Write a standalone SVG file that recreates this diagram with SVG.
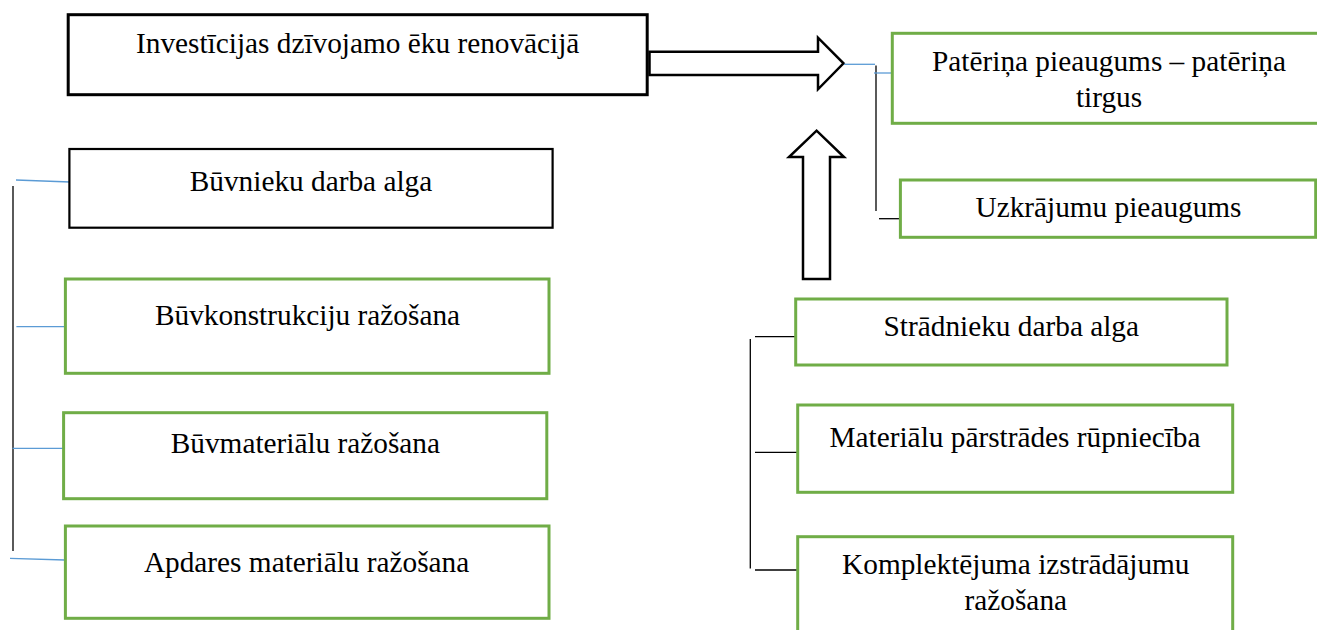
<svg xmlns="http://www.w3.org/2000/svg" width="1317" height="630" viewBox="0 0 1317 630">
<style>
.t{font-family:"Liberation Serif","Times New Roman",serif;font-size:29.3px;fill:#000;text-anchor:middle}
.g{fill:#fff;stroke:#70AD47;stroke-width:3}
.k{fill:#fff;stroke:#000;stroke-width:2.2}
.bl{stroke:#5B9BD5;stroke-width:1.3;fill:none}
.bk{stroke:#000;stroke-width:1.3;fill:none}
.arr{fill:#fff;stroke:#000;stroke-width:2.5;stroke-linejoin:miter}
</style>
<rect width="1317" height="630" fill="#fff"/>
<g id="connectors">
<polygon class="arr" points="649.5,51.7 818,51.7 818,37.7 843.5,63.3 818,89.3 818,75 649.5,75"/>
<polygon class="arr" points="803,279 803,157 789,157 816.6,130.7 844,157 830,157 830,279"/>
<path class="bl" d="M844,64.3 H875"/>
<path class="bk" d="M876,65.5 V211"/>
<path class="bl" d="M874,73 H894"/>
<path class="bk" d="M879,218.7 H901"/>
<path class="bl" d="M16,180 L70,182"/>
<path class="bk" d="M13,186 V551"/>
<path class="bl" d="M16.4,326.7 H64"/>
<path class="bl" d="M12.5,448.3 H63"/>
<path class="bl" d="M10,558.3 L65,560"/>
<path class="bk" d="M755,336.7 H797"/>
<path class="bk" d="M750.3,339 V568.5"/>
<path class="bk" d="M755,452.3 H799"/>
<path class="bk" d="M755,570 H799"/>
</g>
<g id="n-investicijas">
<rect x="68.2" y="14.7" width="579" height="80" fill="#fff" stroke="#000" stroke-width="3"/>
<text class="t" x="357.7" y="53.3">Investīcijas dzīvojamo ēku renovācijā</text>
</g>
<g id="n-paterina">
<rect class="g" x="892.3" y="33.3" width="440" height="90"/>
<text class="t" x="1109" y="70.7">Patēriņa pieaugums – patēriņa</text>
<text class="t" x="1109" y="106.7">tirgus</text>
</g>
<g id="n-uzkrajumu">
<rect class="g" x="900.4" y="180" width="415.3" height="57.3"/>
<text class="t" x="1108.5" y="216.7">Uzkrājumu pieaugums</text>
</g>
<g id="n-buvnieku">
<rect class="k" x="69.4" y="149" width="483.2" height="78.7"/>
<text class="t" x="311" y="190.5">Būvnieku darba alga</text>
</g>
<g id="n-buvkonstrukciju">
<rect class="g" x="65.4" y="279" width="483.6" height="94.3"/>
<text class="t" x="307.5" y="325">Būvkonstrukciju ražošana</text>
</g>
<g id="n-buvmaterialu">
<rect class="g" x="63.6" y="412.7" width="483.2" height="86"/>
<text class="t" x="305.4" y="453.3">Būvmateriālu ražošana</text>
</g>
<g id="n-apdares">
<rect class="g" x="65.4" y="526" width="483.6" height="92.3"/>
<text class="t" x="306.6" y="571.7">Apdares materiālu ražošana</text>
</g>
<g id="n-stradnieku">
<rect class="g" x="795.7" y="299" width="431.3" height="66"/>
<text class="t" x="1011.3" y="335.7">Strādnieku darba alga</text>
</g>
<g id="n-materialu">
<rect class="g" x="797.7" y="405" width="435" height="87.3"/>
<text class="t" x="1015" y="447.3">Materiālu pārstrādes rūpniecība</text>
</g>
<g id="n-komplektejuma">
<rect class="g" x="797.7" y="536.7" width="435" height="110"/>
<text class="t" x="1015.8" y="574.3">Komplektējuma izstrādājumu</text>
<text class="t" x="1015.8" y="610">ražošana</text>
</g>
</svg>
